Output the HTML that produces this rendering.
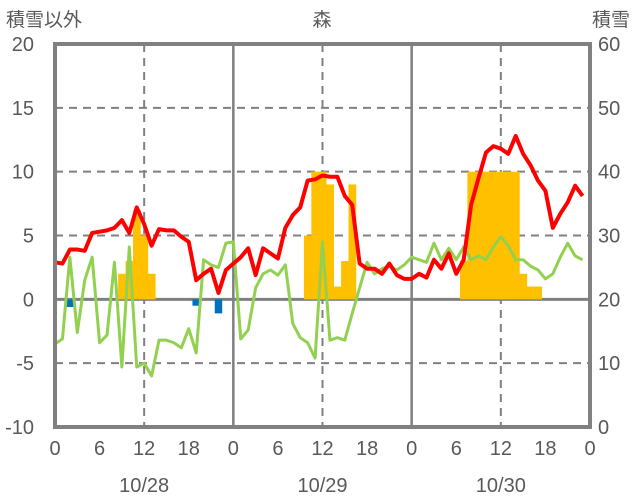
<!DOCTYPE html>
<html><head><meta charset="utf-8"><style>
html,body{margin:0;padding:0;background:#fff}
svg{display:block;font-family:"Liberation Sans","Noto Sans CJK JP",sans-serif}
</style></head><body>
<svg id="chart" width="636" height="501" viewBox="0 0 636 501">
<text x="6" y="26" font-size="19" fill="#595959">積雪以外</text>
<text x="322" y="26" font-size="19" fill="#595959" text-anchor="middle">森</text>
<text x="630" y="26" font-size="19" fill="#595959" text-anchor="end">積雪</text>
<g id="grid"></g>
<g id="bars"></g>
<g id="lines"></g>
<g id="frame"></g>
<g id="ticks"></g>
</svg>
<script>
const leftTicks = [20,15,10,5,0,-5,-10];
const rightTicks = [60,50,40,30,20,10,0];
const hourTicks = [0,6,12,18,0,6,12,18,0,6,12,18,0];
const dateLabels = ["10/28","10/29","10/30"];
const redSeries = [2.9,2.8,3.9,3.9,3.8,5.2,5.3,5.4,5.6,6.2,5.2,7.2,5.9,4.2,5.5,5.4,5.4,4.9,4.5,1.5,2.0,2.4,0.5,2.3,
 2.8,3.3,4.0,1.9,4.0,3.6,3.2,5.6,6.6,7.2,9.3,9.4,9.7,9.6,9.6,8.1,7.4,2.8,2.4,2.4,2.0,2.8,1.9,1.6,
 1.6,2.0,1.7,3.1,2.4,3.6,2.0,3.1,7.4,9.5,11.5,12.0,11.8,11.4,12.8,11.4,10.5,9.3,8.5,5.6,6.7,7.6,8.9,8.1];
const greenSeries = [-3.5,-3.1,3.3,-2.6,1.5,3.3,-3.4,-2.8,2.9,-5.3,4.1,-5.3,-5.0,-6.0,-3.2,-3.2,-3.4,-3.8,-2.3,-4.2,3.1,2.7,2.5,4.4,
 4.5,-3.1,-2.4,0.9,2.0,2.3,1.9,2.7,-1.9,-3.0,-3.4,-4.6,4.5,-3.2,-3.0,-3.2,-1.1,0.9,2.9,2.0,2.4,2.6,2.3,2.7,
 3.3,3.1,2.9,4.4,3.1,4.0,3.1,4.1,3.1,3.4,3.1,4.1,4.9,4.2,3.1,3.1,2.6,2.3,1.6,2.0,3.3,4.4,3.4,3.1];
const snowHours = [9,10,11,12,13,34,35,36,37,38,39,40,55,56,57,58,59,60,61,62,63,64,65];
const snowValues = [24,26,34,30,24,30,40,40,38,22,26,38,26,40,40,40,40,40,40,40,24,22,22];
const dropHours = [2,19,22];
const dropValues = [18.8,19.0,17.8];

const X0=55,X1=590,Y0=44,Y1=427,HOURS=72;
const xs=h=>X0+h*(X1-X0)/HOURS;
const yL=v=>Y0+(20-v)*(Y1-Y0)/30;
const yR=v=>Y0+(60-v)*(Y1-Y0)/60;
const NS="http://www.w3.org/2000/svg";
function mk(parent,tag,attrs){const e=document.createElementNS(NS,tag);for(const k in attrs)e.setAttribute(k,attrs[k]);document.getElementById(parent).appendChild(e);return e;}

// grid
leftTicks.forEach(v=>{ if(v===20||v===-10) return;
  const l=mk('grid','line',{x1:X0,x2:X1,y1:yL(v),y2:yL(v),stroke:'#808080','stroke-width':v===0?3:2,'stroke-dasharray':v===0?'':'8,6'});
  
  
});
[12,36,60].forEach(h=>{const l=mk('grid','line',{x1:xs(h),x2:xs(h),y1:Y0,y2:Y1,stroke:'#808080','stroke-width':2,'stroke-dasharray':'8,6'});
  
  });
[24,48].forEach(h=>{const l=mk('grid','line',{x1:xs(h),x2:xs(h),y1:Y0,y2:Y1,stroke:'#808080','stroke-width':2.5});
  
  });

const bw=(X1-X0)/HOURS;
snowHours.forEach((h,i)=>{const v=snowValues[i];
  const r=mk('bars','rect',{x:xs(h)-bw/2,y:yR(v),width:bw+0.3,height:yR(20)-yR(v),fill:'#FFC000'});
  
  });
dropHours.forEach((h,i)=>{const v=dropValues[i];
  const r=mk('bars','rect',{x:xs(h)-bw/2,y:yR(20),width:bw,height:yR(v)-yR(20),fill:'#0070C0'});
  
  });

const gp=greenSeries.map((v,i)=>xs(i)+','+yL(v)).join(' ');
const g=mk('lines','polyline',{points:gp,fill:'none',stroke:'#92D050','stroke-width':3,'stroke-linejoin':'round'});


const rp=redSeries.map((v,i)=>xs(i)+','+yL(v)).join(' ');
const r=mk('lines','polyline',{points:rp,fill:'none',stroke:'#FF0000','stroke-width':4,'stroke-linejoin':'round'});



const fr=mk('frame','path',{d:`M${X0},${Y1} L${X0},${Y0} L${X1},${Y0} L${X1},${Y1} Z`,fill:'none',stroke:'#808080','stroke-width':4});



leftTicks.forEach(v=>{const t=mk('ticks','text',{x:34,y:yL(v)+7,'font-size':20,fill:'#595959','text-anchor':'end'});t.textContent=v;
  
  });
rightTicks.forEach(v=>{const t=mk('ticks','text',{x:598,y:yR(v)+7,'font-size':20,fill:'#595959'});t.textContent=v;
  
  });
hourTicks.forEach((v,i)=>{const t=mk('ticks','text',{x:xs(i*6),y:455,'font-size':20,fill:'#595959','text-anchor':'middle'});t.textContent=v;
  
  });
dateLabels.forEach((d,i)=>{const t=mk('ticks','text',{x:xs(12+24*i),y:492,'font-size':20,fill:'#595959','text-anchor':'middle'});t.textContent=d;
  
  });
</script>
</body></html>
